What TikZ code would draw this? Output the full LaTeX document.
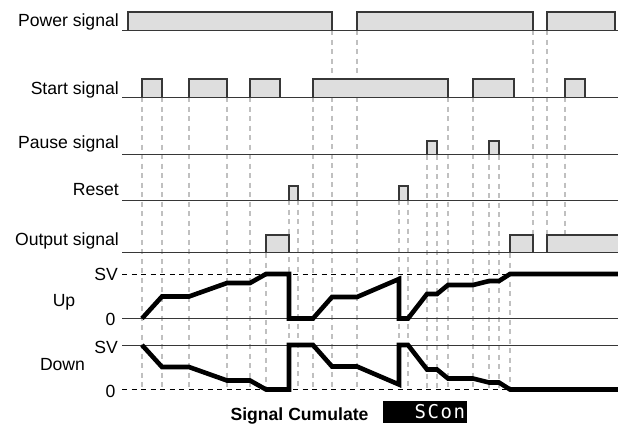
\documentclass[tikz,border=0pt]{standalone}
\usepackage{fontspec}
\setmainfont{Liberation Sans}
\newfontfamily\lcdfont[LetterSpace=8]{DejaVu Sans Mono}
\usepackage{tikz}
\usetikzlibrary{calc}
\definecolor{pulsegray}{RGB}{222,222,222}
\definecolor{guidegray}{RGB}{192,192,192}
\definecolor{linegray}{RGB}{55,55,55}
\tikzstyle{sigline}=[draw=linegray,line width=0.9pt]
\tikzstyle{pulse}=[draw=linegray,fill=pulsegray,line width=1.1pt]
\tikzstyle{guide}=[draw=guidegray,line width=1.4pt,dash pattern=on 5pt off 4.5pt]
\tikzstyle{svline}=[draw=black,line width=1pt,dash pattern=on 5pt off 4.5pt]
\tikzstyle{cumulate}=[draw=black,line width=4.6pt,line join=miter]
\tikzstyle{signame}=[font=\fontsize{17.6}{20}\selectfont,inner sep=0pt]

\begin{document}
\begin{tikzpicture}[x=1pt,y=-1pt]
    \useasboundingbox (0,0) rectangle (618,423);

    % dashed guides from each edge down to the charts
    \foreach \gx/\gtop/\gbot in {142/97/389, 162/97/389, 189/97/389, 227/97/389,
        250/97/389, 266/253/389, 289/200/389, 298/200/389, 313/97/389, 332/30/389,
        357/30/389, 399/200/389, 408/200/389, 427/155/389, 437/155/389, 448/97/389,
        473/97/389, 489/155/389, 499/155/389, 510/253/389, 533/30/253, 547/30/253, 565/97/253}
        \draw[guide] (\gx,\gtop) -- (\gx,\gbot);

    % pulses: left/right/top/bottom
    \foreach \a/\b/\top/\bot in {128/332/12/30.5, 357/533/12/30.5, 547/615/12/30.5,
        142/162/79/97, 189/227/79/97, 250/280/79/97, 313/448/79/97, 473/514/79/97, 565/585/79/97,
        427/437/141/154.5, 489/499/141/154.5,
        289/298/186/200.5, 399/408/186/200.5,
        266/289/235/252.5, 510/533/235/252.5, 547/621/235/252.5}
        \draw[pulse] (\a,\bot) -- (\a,\top) -- (\b,\top) -- (\b,\bot);

    % signal rows
    \foreach \name/\ypos/\ylab/\txt in {power/30.5/27/Power signal, start/97/94/Start signal,
        pause/154.5/148.5/Pause signal, reset/200.5/195/Reset, output/252.5/245.5/Output signal}{
        \node[signame,anchor=base east] (\name) at (119,\ylab) {\txt};
        \draw[sigline] (122,\ypos) -- (618,\ypos);
    }

    % up / down charts
    \draw[svline] (122,274) -- (618,274);
    \draw[sigline] (122,318.5) -- (618,318.5);
    \draw[sigline] (122,345) -- (618,345);
    \draw[svline] (122,389) -- (618,389);
    \node[signame,anchor=east] (upsv) at (118,274) {SV};
    \node[signame,anchor=east] (upzero) at (115.5,319) {0};
    \node[signame,anchor=east] (downsv) at (118,347) {SV};
    \node[signame,anchor=east] (downzero) at (115.5,391) {0};
    \node[signame,anchor=base] (up) at (64,306) {Up};
    \node[signame,anchor=base] (down) at (62.5,370) {Down};

    % cumulated value, mirrored for the down chart
    \foreach \flip/\shift in {1/0,-1/-663.5}
        \draw[cumulate,yshift=\shift pt,yscale=\flip] (142,318.5) -- (162,296.5) -- (189,296.5)
            -- (227,283) -- (250,283) -- (266,274) -- (289,274) -- (289,318.5) -- (313,318.5)
            -- (332,297) -- (357,297) -- (399,279) -- (399,318.5) -- (408,318.5) -- (427,294)
            -- (437,294) -- (448,285) -- (473,285) -- (489,281) -- (499,281) -- (510,274) -- (618,274);

    \node[signame,font=\bfseries\fontsize{17.6}{20}\selectfont,anchor=base] (cumlabel) at (299.5,420) {Signal Cumulate};
    \node[fill=black,text=white,minimum width=84pt,minimum height=22pt,text width=80pt,align=right,
        inner xsep=2pt,inner ysep=0pt,font=\lcdfont\fontsize{19}{20}\selectfont] (display) at (425,412) {SCon};
\end{tikzpicture}
\end{document}
